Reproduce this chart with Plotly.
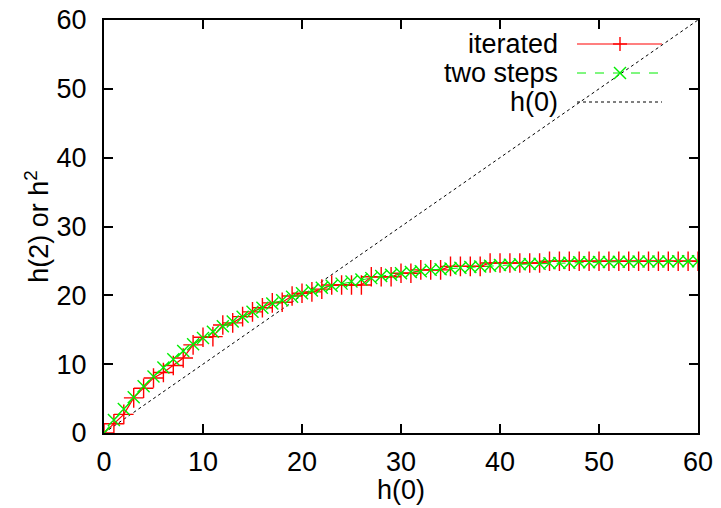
import plotly.graph_objects as go

h0 = list(range(0, 61))

iterated = [0, 1.35, 2.7, 5.1, 6.5, 8.0, 8.8, 9.8, 10.9, 12.8,
            13.9, 14.0, 15.7, 16.0, 16.9, 17.6, 18.2, 18.9, 19.0, 19.9,
            20.3, 20.5, 20.9, 21.5, 21.5, 21.5, 21.5, 22.7, 22.7, 22.7,
            23.2, 23.2, 23.7, 23.7, 23.7, 24.2, 24.2, 24.2, 24.2, 24.7,
            24.7, 24.7, 24.7, 24.7, 24.7, 24.95, 24.95, 24.95, 24.95, 24.95,
            24.95, 24.95, 24.95, 24.95, 24.95, 24.95, 24.95, 24.95, 24.95, 24.95,
            24.95]

two_steps = [0, 1.9, 3.5, 5.2, 6.8, 8.2, 9.5, 10.7, 11.9, 12.9,
             13.8, 14.7, 15.5, 16.2, 16.9, 17.6, 18.2, 18.8, 19.3, 19.8,
             20.3, 20.7, 21.1, 21.4, 21.7, 22.0, 22.3, 22.5, 22.8, 23.0,
             23.2, 23.4, 23.5, 23.7, 23.8, 23.9, 24.0, 24.1, 24.2, 24.3,
             24.4, 24.45, 24.5, 24.55, 24.6, 24.65, 24.7, 24.75, 24.8, 24.8,
             24.85, 24.85, 24.87, 24.88, 24.9, 24.9, 24.92, 24.93, 24.94, 24.95,
             24.95]

ticks = [0, 10, 20, 30, 40, 50, 60]
legend_labels = ["iterated", "two steps", "h(0)"]
x_title = "h(0)"
y_title = "h(2) or h<sup>2</sup>"

RED = "#ff0000"
GREEN = "#00ee00"
FONT = "Liberation Sans, Arial, sans-serif"
FS = 27

fig = go.Figure()
fig.add_trace(go.Scatter(x=h0, y=h0, mode="lines",
                         line=dict(color="black", width=1, dash="dot"), showlegend=False))
fig.add_trace(go.Scatter(x=h0, y=iterated, mode="lines+markers",
                         line=dict(color=RED, width=1.2),
                         marker=dict(symbol="cross-thin", size=14, line=dict(color=RED, width=1.4)),
                         showlegend=False))
fig.add_trace(go.Scatter(x=h0, y=two_steps, mode="lines+markers",
                         line=dict(color=GREEN, width=1, dash="dash"),
                         marker=dict(symbol="x-thin", size=12, line=dict(color=GREEN, width=1.4)),
                         showlegend=False))

# target plot-area position in the page
L, R, T, B = 104, 698, 20, 433
W, H = 721, 508
def px(x): return (x - L) / (R - L)
def py(y): return (B - y) / (B - T)

rows = [44, 73, 102]
styles = [dict(color=RED, width=1.2, dash="solid"),
          dict(color=GREEN, width=1, dash="dash"),
          dict(color="black", width=1, dash="dot")]
annotations = []
shapes = []
for lab, yy, st in zip(legend_labels, rows, styles):
    annotations.append(dict(x=px(560), y=py(yy), xref="paper", yref="paper", text=lab,
                            showarrow=False, xanchor="right", yanchor="middle",
                            font=dict(family=FONT, size=FS, color="black")))
    shapes.append(dict(type="line", xref="paper", yref="paper", x0=px(577), x1=px(662),
                       y0=py(yy), y1=py(yy), line=st))
# x-axis title placed like gnuplot's
annotations.append(dict(x=0.5, y=py(490), xref="paper", yref="paper", text=x_title,
                        showarrow=False, xanchor="center", yanchor="middle",
                        font=dict(family=FONT, size=FS, color="black")))
# legend markers
mx = 620
shapes.append(dict(type="line", xref="paper", yref="paper", x0=px(mx - 7), x1=px(mx + 7),
                   y0=py(rows[0]), y1=py(rows[0]), line=dict(color=RED, width=1.4)))
shapes.append(dict(type="line", xref="paper", yref="paper", x0=px(mx), x1=px(mx),
                   y0=py(rows[0] - 7), y1=py(rows[0] + 7), line=dict(color=RED, width=1.4)))
shapes.append(dict(type="line", xref="paper", yref="paper", x0=px(mx - 6), x1=px(mx + 6),
                   y0=py(rows[1] - 6), y1=py(rows[1] + 6), line=dict(color=GREEN, width=1.4)))
shapes.append(dict(type="line", xref="paper", yref="paper", x0=px(mx - 6), x1=px(mx + 6),
                   y0=py(rows[1] + 6), y1=py(rows[1] - 6), line=dict(color=GREEN, width=1.4)))

axis_common = dict(range=[0, 60], tickvals=ticks, ticktext=[str(t) for t in ticks],
                   showgrid=False, zeroline=False, showline=True, linecolor="black",
                   linewidth=2, mirror="ticks", ticks="inside", ticklen=9, tickwidth=1.5,
                   tickcolor="black", automargin=False,
                   tickfont=dict(family=FONT, size=FS, color="black"))

fig.update_layout(
    width=W, height=H,
    margin=dict(l=L, r=W - R, t=T, b=H - B),
    plot_bgcolor="white", paper_bgcolor="white",
    font=dict(family=FONT, size=FS, color="black"),
    xaxis=dict(**axis_common, ticklabelstandoff=4),
    yaxis=dict(**axis_common, ticklabelstandoff=10,
               title=dict(text=y_title, standoff=0, font=dict(family=FONT, size=FS))),
    annotations=annotations, shapes=shapes,
)
fig.write_html("out.html", config={"displayModeBar": False},
               post_script="document.body.style.margin='0';document.body.style.overflow='hidden';")
